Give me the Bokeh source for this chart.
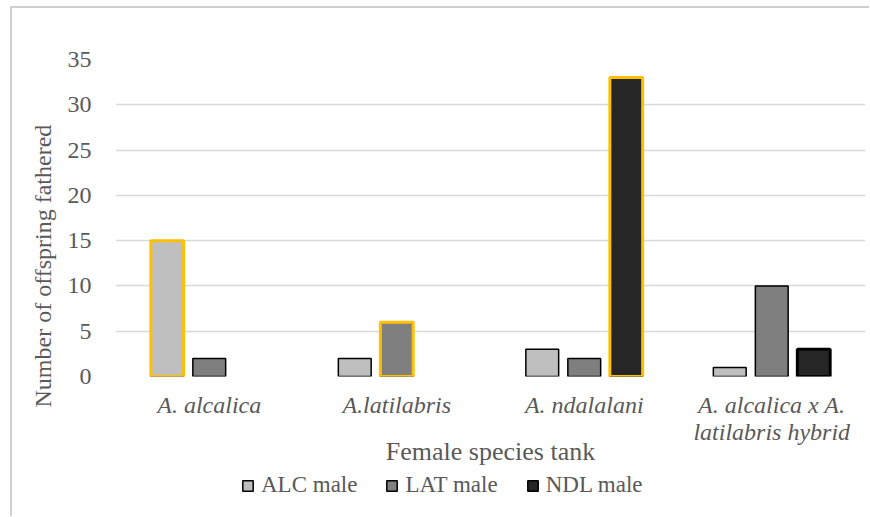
from bokeh.plotting import figure
from bokeh.layouts import column
from bokeh.models import (FactorRange, Range1d, Legend, LegendItem, ColumnDataSource,
                          FixedTicker, Title)
from bokeh.transform import dodge
from bokeh.embed import file_html
from bokeh.resources import INLINE

# ---- data ----
categories = ["A. alcalica", "A.latilabris", "A. ndalalani",
              "A. alcalica x A.\nlatilabris hybrid"]
series = ["ALC male", "LAT male", "NDL male"]
alc_male = [15, 2, 3, 1]
lat_male = [2, 6, 2, 10]
ndl_male = [0, 0, 33, 3]
# own-species tank for each male type (highlighted bars)
own_tank = ["A. alcalica", "A.latilabris", "A. ndalalani"]
y_ticks = [0, 5, 10, 15, 20, 25, 30, 35]
y_title = "Number of offspring fathered"
x_title = "Female species tank"

# ---- style ----
FONT = "Liberation Serif"
TXT = "#595959"
GRID = "#D9D9D9"
colors = ["#BFBFBF", "#7F7F7F", "#262626"]
offsets = [-0.224, 0.0, 0.224]
BW = 0.175

p = figure(x_range=FactorRange(factors=categories), y_range=Range1d(0, 35),
           frame_width=750, frame_height=317, output_backend="svg",
           toolbar_location=None,
           min_border_left=103, min_border_right=4, min_border_top=51,
           min_border_bottom=95)
p.outline_line_color = None
p.xgrid.grid_line_color = None
p.ygrid.grid_line_color = GRID
p.ygrid.grid_line_width = 1.3

p.yaxis.ticker = FixedTicker(ticks=y_ticks)
for ax in (p.xaxis, p.yaxis):
    ax.axis_line_color = None
    ax.major_tick_line_color = None
    ax.minor_tick_line_color = None
    ax.major_tick_out = 0
    ax.major_tick_in = 0
    ax.major_label_text_font = FONT
    ax.major_label_text_color = TXT
    ax.major_label_text_font_size = "24px"

p.yaxis.major_label_standoff = 24
p.xaxis.major_label_standoff = 15
p.xaxis.major_label_text_font_style = "italic"
p.xaxis.major_label_text_line_height = 1.05
p.xaxis.axis_label = x_title
p.xaxis.axis_label_text_font = FONT
p.xaxis.axis_label_text_font_style = "normal"
p.xaxis.axis_label_text_color = TXT
p.xaxis.axis_label_text_font_size = "26px"
p.xaxis.axis_label_standoff = -11

t = Title(text=y_title, align="left", offset=-31, standoff=18,
          text_font=FONT, text_font_size="24px", text_font_style="normal",
          text_color=TXT)
p.add_layout(t, "left")

# legend strip below the chart
pl = figure(width=857, height=45, x_range=Range1d(0, 1), y_range=Range1d(0, 1),
            output_backend="svg", toolbar_location=None, min_border=0)
pl.axis.visible = False
pl.grid.visible = False
pl.outline_line_color = None

NAN = float("nan")
items = []
for s, vals, col, off in zip(series, [alc_male, lat_male, ndl_male], colors, offsets):
    xs = [c for c, v in zip(categories, vals) if v > 0]
    tops = [v for v in vals if v > 0]
    lw = [3.0 if (s == "NDL male" and c == categories[3]) else 1.5 for c in xs]
    src = ColumnDataSource(dict(cat=xs, top=tops, lw=lw))
    p.vbar(x=dodge("cat", off, range=p.x_range), top="top", bottom=0, width=BW,
           fill_color=col, line_color="black", line_width="lw", source=src)
    own = series.index(s)
    hx = [c for c, v in zip(categories, vals) if v > 0 and c == own_tank[own]]
    ht = [v for c, v in zip(categories, vals) if v > 0 and c == own_tank[own]]
    hsrc = ColumnDataSource(dict(cat=hx, top=ht))
    p.vbar(x=dodge("cat", off, range=p.x_range), top="top", bottom=0, width=BW,
           fill_color=col, line_color="#FFC000", line_width=3, source=hsrc)
    # legend key (same style as the series bars; no visible mark of its own)
    key = pl.vbar(x=[NAN], top=[NAN], width=0.1, fill_color=col, line_color="black",
                  line_width=1.5)
    items.append(LegendItem(label=s, renderers=[key]))

legend = Legend(items=items, orientation="horizontal", location=(126, 18),
                label_text_font=FONT, label_text_font_size="23px",
                label_text_color=TXT, glyph_width=13, glyph_height=13,
                label_standoff=7, spacing=28, padding=0, margin=0,
                border_line_color=None, background_fill_alpha=0)
pl.add_layout(legend, "center")

layout = column(p, pl, spacing=0)
layout.styles = {"border-top": "2px solid #D0D0D0", "border-left": "2px solid #D0D0D0",
                 "margin-left": "10px", "margin-top": "6px"}

open("out.html", "w").write(file_html(layout, INLINE))
